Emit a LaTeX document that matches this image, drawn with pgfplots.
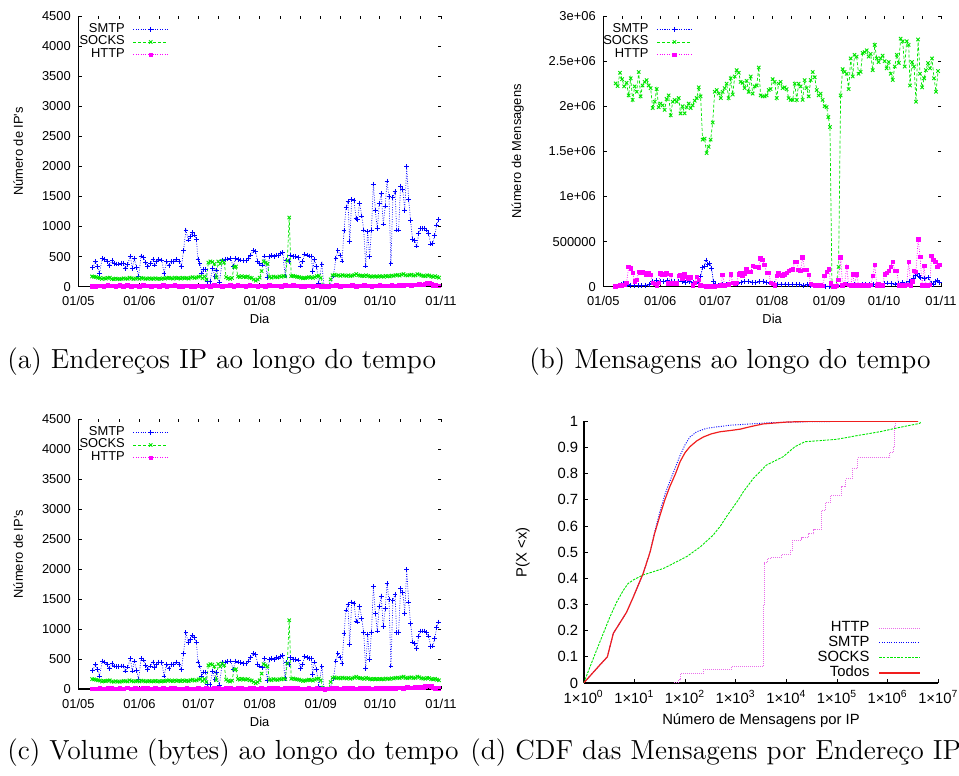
\documentclass[border=0pt]{standalone}
\usepackage{fontspec}
\usepackage{pgfplots}
\pgfplotsset{compat=1.18}
\usepackage{pgfplotstable}
\newfontfamily\lsans{Liberation Sans}
\definecolor{gpblue}{rgb}{0,0,1}
\definecolor{gpgreen}{rgb}{0,0.9,0}
\definecolor{gpmag}{rgb}{1,0,1}
\definecolor{cdfhttp}{RGB}{235,110,235}
\definecolor{cdfred}{RGB}{240,30,30}

% ---------- Panel (a)/(c): numero de IPs por dia ----------
\pgfplotstableread{
day val
7.3 316
8.8 416
9.8 332
10.7 222
12.2 471
13.5 454
14.7 416
15.7 349
17.1 432
18.3 388
19.4 377
20.6 377
21.8 388
22.8 388
23.8 305
25.0 371
26.4 510
27.4 305
28.4 471
29.6 316
30.6 166
31.8 510
33.0 488
34.2 399
35.2 332
36.7 388
37.9 454
38.7 360
39.7 416
40.9 454
42.4 443
43.5 222
44.8 416
46.0 349
47.4 416
48.5 416
49.9 454
51.1 416
52.3 332
53.4 599
54.6 942
55.8 776
56.8 831
57.8 898
58.9 859
59.9 787
60.7 454
61.7 388
62.6 222
63.6 288
64.6 288
65.4 83
66.8 83
68.2 305
69.3 166
70.2 277
71.5 66
73.1 443
74.6 454
75.8 460
77.3 471
78.6 332
79.8 471
81.2 454
82.4 443
83.7 432
85.1 432
86.2 471
87.4 526
88.8 599
90.0 582
91.0 416
92.0 388
93.4 360
94.5 510
95.9 150
96.9 499
98.1 515
99.3 499
100.3 526
101.5 521
102.7 554
103.8 565
104.9 177
105.7 443
106.9 416
107.7 526
109.1 499
110.3 499
111.6 488
112.8 343
113.8 416
114.8 543
116.2 526
117.2 510
118.2 510
118.9 249
119.7 454
120.9 332
121.9 55
123.6 377
124.6 11
126.0 5
127.5 5
129.4 177
130.7 471
131.7 599
132.8 526
133.8 427
134.8 931
135.8 1319
136.8 1413
137.7 748
138.7 1452
139.9 1430
140.9 1136
141.7 1119
142.7 1385
143.8 1175
144.8 942
145.8 343
146.8 914
147.8 499
148.7 942
149.7 1707
150.7 1264
151.7 970
152.7 1385
153.7 1552
154.7 1042
155.7 1341
156.6 1757
157.6 1496
158.6 388
159.6 1485
160.7 1580
161.5 942
162.5 942
163.5 1674
164.6 1618
165.6 1264
166.6 1995
167.6 1452
168.6 1097
169.6 787
170.6 765
171.7 676
172.7 887
173.7 970
174.7 970
175.7 970
176.7 942
177.7 887
178.8 709
179.8 720
180.8 848
181.8 1025
182.8 1119
}\smtpA

\pgfplotstableread{
day val
7 170
8 165
9 160
10 150
11 145
12 130
13 140
14 135
15 145
16 150
17 130
18 125
19 135
20 130
21 125
22 130
23 140
24 135
25 130
26 150
27 140
28 130
29 135
30 140
31 130
32 145
33 140
34 130
35 135
36 140
37 130
38 135
39 140
40 130
41 135
42 130
43 140
44 135
45 145
46 150
47 140
48 135
49 150
50 140
51 145
52 135
53 150
54 140
55 145
56 135
57 150
58 160
59 145
60 150
61 165
62 170
63 140
64 170
65 120
66 400
67 420
68 410
69 380
70 150
71 420
72 380
73 430
74 400
75 160
76 140
77 130
78 145
79 330
80 335
81 170
82 160
83 175
84 165
85 160
86 170
87 150
88 145
89 120
90 100
91 120
92 150
93 260
94 420
95 400
96 380
97 160
98 150
99 170
100 160
101 155
102 170
103 165
104 180
105 170
106 430
107 1150
108 175
109 180
110 170
111 165
112 160
113 150
114 140
115 145
116 150
117 160
118 155
119 145
120 160
121 175
122 180
123 150
124 20
125 5
126 5
127 10
128 120
129 190
130 200
131 185
132 190
133 180
134 195
135 185
136 180
137 190
138 175
139 185
140 195
141 210
142 190
143 185
144 180
145 175
146 190
147 180
148 170
149 165
150 175
151 170
152 165
153 175
154 170
155 165
156 180
157 175
158 170
159 185
160 180
161 190
162 195
163 185
164 200
165 210
166 190
167 185
168 195
169 200
170 185
171 190
172 210
173 200
174 185
175 180
176 175
177 190
178 185
179 170
180 165
181 175
182 160
183 150
}\socksA

\pgfplotstableread{
day val
7 10
9 5
11 15
13 8
15 20
17 12
19 6
21 18
23 10
25 25
27 8
29 15
31 10
33 20
35 12
37 8
39 15
41 10
43 18
45 6
47 12
49 20
51 10
53 8
55 15
57 10
59 5
61 12
63 8
65 15
67 10
69 20
71 12
73 8
75 15
77 18
79 10
81 20
83 15
85 10
87 18
89 12
91 8
93 15
95 10
97 20
99 12
101 15
103 10
105 18
107 12
109 20
111 15
113 10
115 8
117 12
119 10
121 15
123 8
125 3
127 5
129 15
131 20
133 10
135 15
137 12
139 18
141 10
143 15
145 20
147 12
149 10
151 15
153 18
155 12
157 15
159 20
161 15
163 25
165 20
167 30
169 25
171 30
173 35
175 30
176 45
177 60
178 55
179 50
180 25
181 20
183 15
}\httpA

% ---------- Panel (b): numero de mensagens por dia ----------
\pgfplotstableread{
day val
6.7 2.253e6
7.8 2.224e6
9.1 2.37e6
10.2 2.30e6
11.4 2.22e6
12.7 2.26e6
13.8 2.12e6
14.9 2.31e6
16.0 2.07e6
17.1 2.22e6
18.2 2.16e6
19.3 2.38e6
20.3 2.11e6
21.4 2.23e6
22.5 2.27e6
23.6 2.29e6
24.7 2.23e6
25.8 2.20e6
26.9 1.98e6
28.0 2.05e6
29.1 2.19e6
30.2 1.99e6
31.2 2.03e6
32.3 2.01e6
33.4 1.96e6
34.5 2.08e6
35.6 2.12e6
36.7 1.90e6
37.8 2.05e6
38.9 2.07e6
40.0 2.05e6
41.1 2.09e6
42.1 1.92e6
43.2 2.00e6
44.3 1.92e6
45.4 1.99e6
46.5 2.03e6
47.6 1.98e6
48.7 2.01e6
49.8 2.06e6
50.9 2.09e6
52.0 2.21e6
53.0 2.11e6
54.1 1.63e6
55.2 1.64e6
56.3 1.48e6
57.4 1.55e6
58.5 1.63e6
59.6 1.82e6
60.7 2.16e6
61.8 2.18e6
62.9 2.14e6
64.0 2.09e6
65.0 2.16e6
66.1 2.20e6
67.2 2.25e6
68.3 2.09e6
69.4 2.31e6
70.5 2.13e6
71.6 2.33e6
72.7 2.40e6
73.8 2.37e6
74.8 2.27e6
75.9 2.26e6
77.0 2.20e6
78.1 2.28e6
79.2 2.16e6
80.3 2.33e6
81.4 2.14e6
82.5 2.22e6
83.6 2.23e6
84.7 2.43e6
85.7 2.12e6
86.8 2.11e6
87.9 2.11e6
89.0 2.12e6
90.1 2.18e6
91.2 2.19e6
92.3 2.30e6
93.4 2.27e6
94.5 2.09e6
95.5 2.25e6
96.6 2.27e6
97.7 2.20e6
98.8 2.21e6
99.9 2.19e6
101.0 2.09e6
102.1 2.07e6
103.2 2.07e6
104.3 2.25e6
105.4 2.07e6
106.4 2.25e6
107.5 2.22e6
108.6 2.07e6
109.7 2.29e6
110.8 2.20e6
111.9 2.11e6
113.0 2.29e6
114.1 2.38e6
115.2 2.32e6
116.3 2.18e6
117.3 2.12e6
118.4 2.14e6
119.5 2.07e6
120.6 2.00e6
121.7 1.99e6
122.6 1.88e6
123.5 1.77e6
124.6 5000
125.7 3000
126.8 5000
128.2 0.22e6
129.3 2.12e6
130.4 2.41e6
131.5 2.38e6
132.6 2.36e6
133.7 2.19e6
134.8 2.53e6
135.9 2.33e6
136.9 2.57e6
138.0 2.55e6
139.1 2.36e6
140.2 2.38e6
141.3 2.59e6
142.4 2.60e6
143.5 2.62e6
144.6 2.55e6
145.7 2.58e6
146.8 2.40e6
147.9 2.68e6
149.0 2.53e6
150.0 2.49e6
151.1 2.53e6
152.2 2.56e6
153.3 2.50e6
154.4 2.42e6
155.5 2.49e6
156.6 2.36e6
157.7 2.29e6
158.8 2.44e6
159.9 2.57e6
161.0 2.48e6
162.0 2.75e6
163.1 2.72e6
164.2 2.44e6
165.3 2.72e6
166.4 2.68e6
167.1 2.23e6
168.2 2.49e6
169.3 2.44e6
170.4 2.05e6
171.5 2.74e6
172.6 2.36e6
173.7 2.21e6
174.8 2.31e6
175.8 2.40e6
176.9 2.48e6
178.0 2.42e6
179.1 2.53e6
180.2 2.31e6
181.3 2.16e6
182.4 2.39e6
}\socksB

\pgfplotstableread{
day val
6.7 5000
7.8 8000
9.1 12000
10.2 15000
11.4 20000
12.7 44000
13.8 220000
14.9 200000
16.0 155000
17.1 60000
18.2 75000
19.3 165000
20.3 155000
21.4 165000
22.5 155000
23.6 140000
24.7 155000
25.8 130000
26.9 44000
28.0 30000
29.1 18000
30.2 44000
31.2 148000
32.3 140000
33.4 140000
34.5 148000
35.6 37000
36.7 130000
37.8 37000
38.9 30000
40.0 37000
41.1 118000
42.1 130000
43.2 92000
44.3 140000
45.4 110000
46.5 92000
47.6 103000
48.7 18000
49.8 44000
50.9 110000
52.0 74000
53.0 18000
54.1 10000
55.2 8000
56.3 5000
57.4 8000
58.5 5000
59.6 3000
60.7 5000
61.8 8000
62.9 10000
64.0 12000
65.0 130000
66.1 18000
67.2 20000
68.3 25000
69.4 140000
70.5 44000
71.6 30000
72.7 44000
73.8 140000
74.8 155000
75.9 118000
77.0 148000
78.1 192000
79.2 166000
80.3 166000
81.4 229000
82.5 222000
83.6 222000
84.7 214000
85.7 314000
86.8 296000
87.9 240000
89.0 155000
90.1 155000
91.2 44000
92.3 30000
93.4 18000
94.5 118000
95.5 148000
96.6 130000
97.7 118000
98.8 140000
99.9 155000
101.0 177000
102.1 185000
103.2 192000
104.3 277000
105.4 277000
106.4 185000
107.5 177000
108.6 325000
109.7 185000
110.8 185000
111.9 130000
113.0 30000
114.1 20000
115.2 15000
116.3 12000
117.3 10000
118.4 15000
119.5 10000
120.6 118000
121.7 166000
122.8 192000
123.9 40000
125.0 5000
126.1 3000
127.1 10000
128.2 74000
129.3 325000
130.4 18000
131.5 30000
132.6 222000
133.7 20000
134.8 15000
135.9 140000
136.9 18000
138.0 140000
139.1 15000
140.2 10000
141.3 12000
142.4 10000
143.5 15000
144.6 12000
145.7 20000
146.8 118000
147.9 240000
149.0 15000
150.0 30000
151.1 12000
152.2 15000
153.3 140000
154.4 155000
155.5 177000
156.6 222000
157.7 277000
158.8 177000
159.9 177000
161.0 15000
162.0 12000
163.1 10000
164.2 15000
165.3 20000
166.4 277000
167.5 15000
168.5 60000
169.3 177000
170.4 166000
171.5 525000
172.6 332000
173.7 15000
174.8 229000
175.8 15000
176.9 10000
177.9 20000
178.8 340000
179.9 296000
181.0 277000
182.1 222000
183.2 240000
}\httpB

\pgfplotstableread{
day val
7 5000
8 10000
9 15000
10 25000
11 40000
12 30000
13 20000
15 15000
17 10000
19 12000
21 10000
23 15000
25 20000
26 40000
27 60000
29 65000
31 60000
33 55000
35 65000
37 60000
39 55000
41 60000
43 55000
45 50000
47 55000
49 45000
51 40000
52 60000
53 110000
54 210000
55 220000
56 295000
57 250000
58 260000
59 200000
60 60000
61 20000
63 15000
65 20000
67 25000
69 20000
71 30000
73 35000
75 50000
77 55000
79 60000
81 50000
83 45000
85 55000
87 60000
89 50000
91 40000
93 35000
95 30000
97 25000
99 30000
101 20000
103 25000
105 20000
107 25000
109 15000
111 20000
113 15000
115 10000
117 15000
119 10000
121 5000
123 5000
125 2000
127 2000
129 10000
131 15000
133 20000
135 15000
137 20000
139 15000
141 20000
143 25000
145 20000
147 25000
149 30000
151 25000
153 35000
155 40000
157 35000
159 30000
161 35000
163 45000
165 40000
167 60000
169 90000
170 120000
171 150000
172 110000
173 100000
175 95000
177 100000
179 40000
180 20000
181 60000
182 65000
183 50000
}\smtpB

% ---------- Panel (d): CDF ----------
\pgfplotstableread{
x p
60 0.003
75 0.012
80 0.037
230 0.05
830 0.063
3500 0.30
3700 0.46
4300 0.475
5000 0.48
8000 0.49
12000 0.505
13000 0.545
20000 0.555
27000 0.57
35000 0.585
50000 0.66
60000 0.69
75000 0.715
120000 0.75
150000 0.78
200000 0.82
250000 0.86
1100000 0.88
1300000 0.905
1350000 0.98
1400000 1.0
1400001 1.0
}\cdfHTTP

\pgfplotstableread{
x p
1 0
2 0.065
2.93 0.1
3.85 0.19
5.6 0.24
7 0.27
9.6 0.33
12 0.375
15 0.42
20.4 0.50
25 0.575
32 0.655
40 0.72
50 0.77
65 0.825
80 0.87
100 0.91
125 0.94
170 0.96
265 0.973
400 0.978
780 0.985
2000 0.99
5000 0.995
20000 0.998
240000 1
}\cdfSMTP

\pgfplotstableread{
x p
1 0
1.8 0.126
3.3 0.253
4.5 0.31
6.1 0.355
7.5 0.38
9.6 0.394
15 0.413
38 0.438
108 0.483
200 0.52
363 0.566
500 0.60
660 0.636
1130 0.70
1420 0.731
2240 0.782
4070 0.833
8700 0.865
14800 0.903
23400 0.922
98000 0.931
280000 0.947
700000 0.96
1750000 0.977
4300000 0.992
4500000 0.998
}\cdfSOCKS

\pgfplotstableread{
x p
1 0
2 0.065
2.93 0.1
3.85 0.19
5.6 0.24
7 0.27
9.6 0.33
12 0.375
15 0.42
20.4 0.50
25 0.57
32 0.64
40 0.70
50 0.75
65 0.80
80 0.846
100 0.88
125 0.903
170 0.925
230 0.94
330 0.952
490 0.96
800 0.965
1230 0.97
2000 0.98
3500 0.99
10000 0.997
30000 1
4000000 1
}\cdfTodos

\newcommand\smallfont{\lsans\fontsize{6.45}{7.5}\selectfont}
\newcommand\cdffont{\lsans\fontsize{7.4}{8.5}\selectfont}
\newcommand\capfont{\fontsize{13.8}{16}\selectfont}

\pgfplotsset{
  gpbase/.style={
    scale only axis, anchor=south west,
    axis x line*=bottom, axis y line*=left,
    tick align=inside,
    axis line style={line width=0.8pt,-},
    every tick/.style={black, line width=0.4pt},
    major tick length=1.6pt,
    every tick label/.append style={font=\smallfont},
    label style={font=\smallfont},
    xticklabel style={inner sep=0pt, anchor=north, yshift=-4.5pt},
    yticklabel style={inner sep=0pt, anchor=east, xshift=-3.6pt},
    legend cell align=right, legend plot pos=right,
    legend image code/.code={\draw[mark repeat=2,mark phase=2] plot coordinates {(0pt,0pt) (8.6pt,0pt) (17.2pt,0pt)};},
  },
  timeaxis/.style={
    gpbase,
    xmin=0, xmax=184,
    xtick={0,31,61,92,123,153,184},
    xticklabels={01/05,01/06,01/07,01/08,01/09,01/10,01/11},
    xlabel={Dia},
  },
  mirror/.style={
    scale only axis, anchor=south west,
    axis x line*=top, axis y line*=right,
    axis line style={draw=none},
    tick align=inside,
    every tick/.style={black, line width=0.4pt},
    major tick length=1.6pt, minor tick length=1.6pt,
    xticklabels=\empty, yticklabels=\empty,
    xmin=0, xmax=184,
    xtick={0,31,61,92,123,153,184},
    minor xtick={10.3,20.7,41,51,71.3,81.7,102.3,112.7,133,143,163.3,173.7},
  },
  leg/.style={legend style={draw=none, fill=none, inner sep=0pt, outer sep=0pt,
     nodes={inner sep=0pt, outer sep=0pt}, row sep=0.4pt, column sep=4.2pt, font=\smallfont}},
  smtpst/.style={gpblue, line width=0.35pt, dash pattern=on 0.4pt off 0.8pt, mark=+, mark size=1.2pt, mark options={solid, line width=0.45pt}},
  socksst/.style={gpgreen, line width=0.35pt, dash pattern=on 1.5pt off 1pt, mark=x, mark size=1.2pt, mark options={solid, line width=0.45pt}},
  httpst/.style={gpmag, line width=0.35pt, dash pattern=on 0.4pt off 0.8pt, mark=square*, mark size=0.9pt, mark options={solid}},
}

\begin{document}
\begin{tikzpicture}
\path[use as bounding box] (0,0) rectangle (479.5pt,388pt);

% ===== (a) =====
\begin{axis}[timeaxis, at={(39.15pt,244.65pt)}, width=181.35pt, height=135.35pt,
  ymin=0, ymax=4500, ytick={0,500,...,4500},
  yticklabels={0,500,1000,1500,2000,2500,3000,3500,4000,4500},
  ylabel={Número de IP's},
  xlabel style={at={(axis description cs:0.5,-0.1204)}, anchor=center},
  ylabel style={at={(axis description cs:-0.1654,0.5)}, anchor=center},
  leg, legend style={at={(0.248,0.9735)}, anchor=north east},
]
\addplot[smtpst] table[x=day,y=val]{\smtpA};
\addplot[socksst] table[x=day,y=val]{\socksA};
\addplot[httpst] table[x=day,y=val]{\httpA};
\legend{SMTP,SOCKS,HTTP}
\end{axis}
\begin{axis}[mirror, at={(39.15pt,244.65pt)}, width=181.35pt, height=135.35pt,
  ymin=0, ymax=4500, ytick={0,500,...,4500}]
\end{axis}

% ===== (b) =====
\begin{axis}[timeaxis, at={(301.65pt,244.65pt)}, width=168.85pt, height=135.35pt,
  ymin=0, ymax=3000000, ytick={0,500000,1000000,1500000,2000000,2500000,3000000},
  yticklabels={0,500000,1e+06,1.5e+06,2e+06,2.5e+06,3e+06},
  scaled y ticks=false,
  ylabel={Número de Mensagens},
  xlabel style={at={(axis description cs:0.5,-0.1204)}, anchor=center},
  ylabel style={at={(axis description cs:-0.2535,0.5)}, anchor=center},
  leg, legend style={at={(0.2627,0.9735)}, anchor=north east},
]
\addplot[smtpst, dash pattern=on 0.6pt off 0.6pt] table[x=day,y=val]{\smtpB};
\addplot[socksst] table[x=day,y=val]{\socksB};
\addplot[httpst] table[x=day,y=val]{\httpB};
\legend{SMTP,SOCKS,HTTP}
\end{axis}
\begin{axis}[mirror, at={(301.65pt,244.65pt)}, width=168.85pt, height=135.35pt,
  ymin=0, ymax=3000000, ytick={0,500000,1000000,1500000,2000000,2500000,3000000}, scaled y ticks=false]
\end{axis}

% ===== (c) =====
\begin{axis}[timeaxis, at={(39.15pt,43.35pt)}, width=181.35pt, height=135.15pt,
  ymin=0, ymax=4500, ytick={0,500,...,4500},
  yticklabels={0,500,1000,1500,2000,2500,3000,3500,4000,4500},
  ylabel={Número de IP's},
  xlabel style={at={(axis description cs:0.5,-0.122)}, anchor=center},
  ylabel style={at={(axis description cs:-0.1654,0.5)}, anchor=center},
  leg, legend style={at={(0.248,0.9735)}, anchor=north east},
]
\addplot[smtpst] table[x=day,y=val]{\smtpA};
\addplot[socksst] table[x=day,y=val]{\socksA};
\addplot[httpst] table[x=day,y=val]{\httpA};
\legend{SMTP,SOCKS,HTTP}
\end{axis}
\begin{axis}[mirror, at={(39.15pt,43.35pt)}, width=181.35pt, height=135.15pt,
  ymin=0, ymax=4500, ytick={0,500,...,4500}]
\end{axis}

% ===== (d) =====
\begin{axis}[scale only axis, anchor=south west, at={(291.85pt,46.5pt)}, width=177.3pt, height=130.85pt,
  xmode=log, xmin=1, xmax=1e7, ymin=0, ymax=1,
  axis x line*=bottom, axis y line*=left, tick align=inside,
  axis line style={line width=0.8pt,-},
  every tick/.style={black, line width=0.4pt},
  major tick length=2pt, xminorticks=false,
  xtick={1,10,100,1000,10000,100000,1000000,10000000},
  xticklabels={1×10\textsuperscript{0},1×10\textsuperscript{1},1×10\textsuperscript{2},1×10\textsuperscript{3},1×10\textsuperscript{4},1×10\textsuperscript{5},1×10\textsuperscript{6},1×10\textsuperscript{7}},
  ytick={0,0.1,...,1.01},
  yticklabels={0,0.1,0.2,0.3,0.4,0.5,0.6,0.7,0.8,0.9,1},
  every tick label/.append style={font=\cdffont},
  label style={font=\cdffont},
  xticklabel style={inner sep=0pt, anchor=north, yshift=-3.5pt},
  yticklabel style={inner sep=0pt, anchor=east, xshift=-2.6pt},
  xlabel={Número de Mensagens por IP},
  ylabel={P(X <x)},
  xlabel style={at={(axis description cs:0.5,-0.144)}, anchor=center},
  ylabel style={at={(axis description cs:-0.172,0.5)}, anchor=center},
  legend cell align=right, legend plot pos=right,
  legend image code/.code={\draw plot coordinates {(0pt,0pt) (20.3pt,0pt)};},
  legend style={draw=none, fill=none, inner sep=0pt, outer sep=0pt, nodes={inner sep=0pt, outer sep=0pt}, at={(0.950,0.012)}, anchor=south east, row sep=0.8pt, column sep=4.65pt, font=\cdffont},
]
\addplot[const plot, cdfhttp, line width=0.45pt, dash pattern=on 0.4pt off 0.6pt] table[x=x,y=p]{\cdfHTTP};
\addplot[gpblue, line width=0.45pt, dash pattern=on 0.5pt off 0.7pt] table[x=x,y=p]{\cdfSMTP};
\addplot[gpgreen, line width=0.45pt, dash pattern=on 1.2pt off 0.6pt] table[x=x,y=p]{\cdfSOCKS};
\addplot[color=cdfred, draw=cdfred, line width=0.6pt, solid] table[x=x,y=p]{\cdfTodos};
\legend{HTTP,SMTP,SOCKS,Todos}
\end{axis}

% ===== captions =====
\node[anchor=base west, inner sep=0pt, font=\capfont] at (3.5pt,203.5pt) {(a) Endereços IP ao longo do tempo};
\node[anchor=base west, inner sep=0pt, font=\capfont] at (264.5pt,203.5pt) {(b) Mensagens ao longo do tempo};
\node[anchor=base west, inner sep=0pt, font=\capfont] at (3.5pt,8pt) {(c) Volume (bytes) ao longo do tempo};
\node[anchor=base west, inner sep=0pt, font=\capfont] at (235pt,8pt) {(d) CDF das Mensagens por Endereço IP};
\end{tikzpicture}
\end{document}
